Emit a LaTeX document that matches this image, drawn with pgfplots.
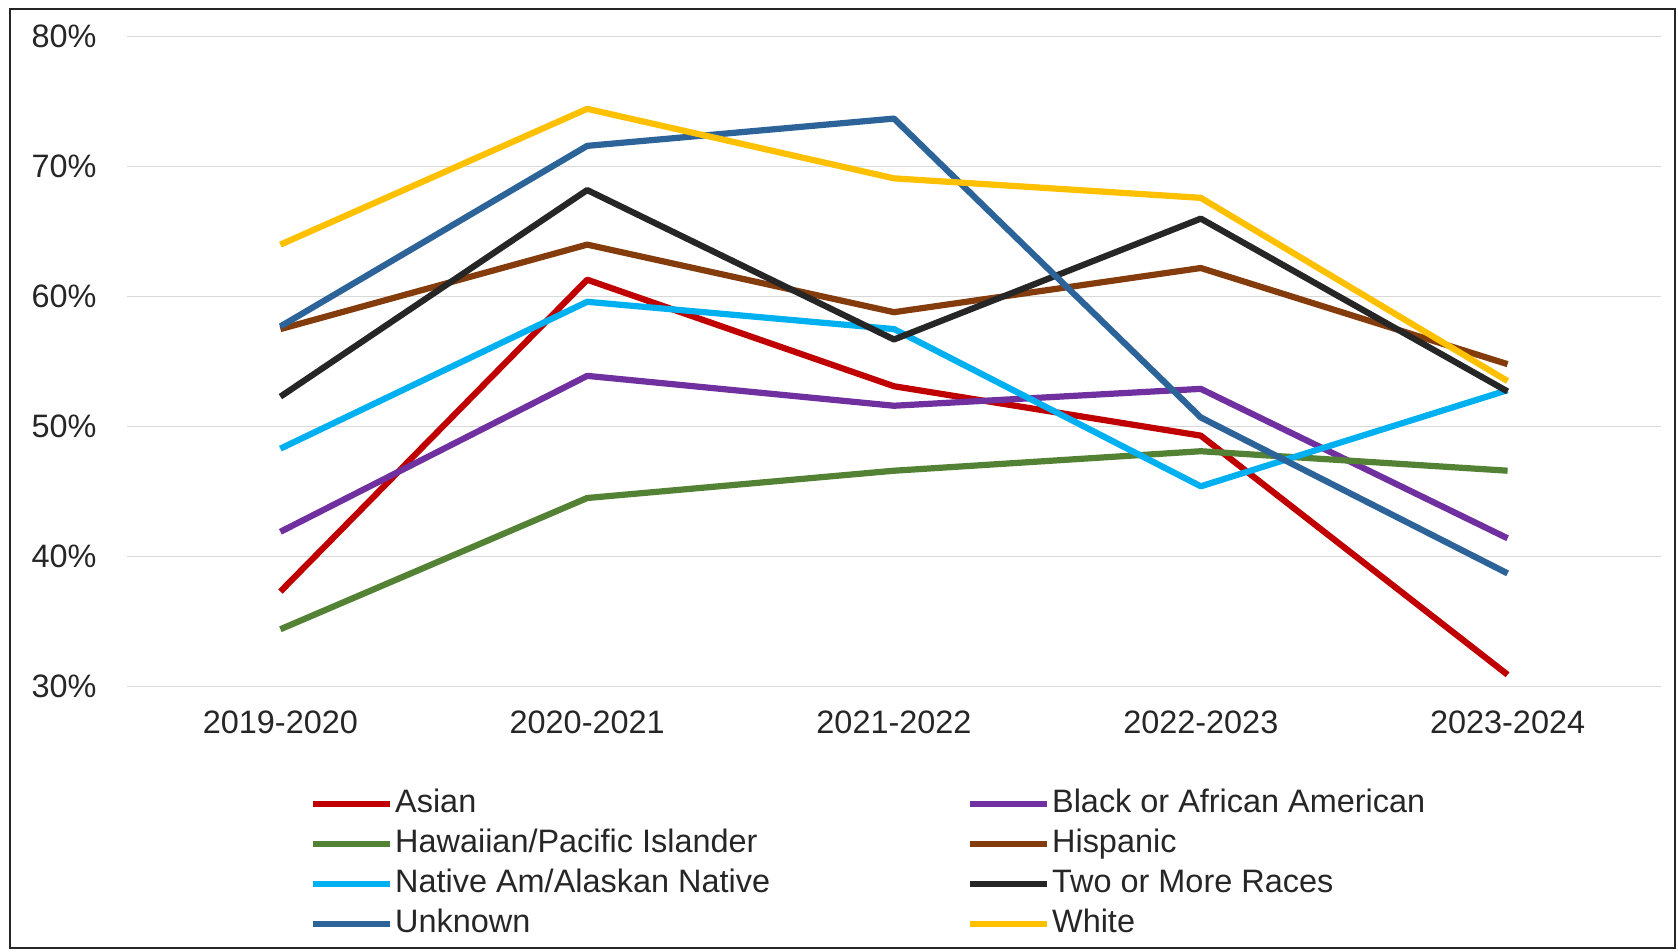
\documentclass[border=0pt]{standalone}
\usepackage{pgfplots}
\pgfplotsset{compat=1.18}
\usepackage{fontspec}
\setmainfont{Liberation Sans}
\definecolor{cAsian}{HTML}{C00000}
\definecolor{cBlack}{HTML}{7030A0}
\definecolor{cHaw}{HTML}{548235}
\definecolor{cHisp}{HTML}{843C0C}
\definecolor{cNat}{HTML}{00B0F0}
\definecolor{cTwo}{HTML}{262626}
\definecolor{cUnk}{HTML}{2C6399}
\definecolor{cWhite}{HTML}{FFC000}
\definecolor{gridgray}{HTML}{D9D9D9}
\definecolor{txt}{HTML}{262626}
\begin{document}
\fontsize{12}{14}\selectfont
\begin{tikzpicture}
\useasboundingbox (-46.99pt,-97.90pt) rectangle (573.87pt,253.97pt);
\begin{axis}[
  at={(0pt,0pt)}, anchor=south west,
  scale only axis, width=567.58pt, height=240.39pt,
  xmin=-0.5, xmax=4.5, ymin=30, ymax=80,
  xtick={0,1,2,3,4},
  xticklabels={2019-2020,2020-2021,2021-2022,2022-2023,2023-2024},
  ytick={30,40,50,60,70,80},
  yticklabel={\pgfmathprintnumber{\tick}\%},
  /pgf/number format/assume math mode=true,
  ymajorgrids, grid style={color=gridgray, line width=0.55pt},
  axis line style={draw=none},
  major tick length=0pt,
  tick label style={font=\fontsize{12}{14}\selectfont, text=txt},
  yticklabel style={anchor=east, inner sep=0pt, xshift=-11.1pt},
  xticklabel style={anchor=north, inner sep=0pt, yshift=-8.7pt},
  legend columns=2,
  legend cell align=left,
  legend style={at={(0.1189,-0.1574)}, anchor=north west, draw=none, fill=none,
    inner sep=0pt, font=\fontsize{12}{14}\selectfont, text=txt, row sep=3.7pt,
    nodes={inner sep=0pt, text height=8.6pt, text depth=2.5pt},
    /tikz/every odd column/.append style={column sep=0.65pt},
    /tikz/every even column/.append style={column sep=72.8pt}},
  legend image code/.code={\draw[#1, line width=2.4pt] (0pt,0pt) -- (28.5pt,0pt);},
  every axis plot/.append style={line width=2.3pt, line join=round, mark=none},
]
\addplot[cAsian] coordinates {(0,37.3) (1,61.3) (2,53.1) (3,49.3) (4,30.9)};
\addlegendentry{Asian}
\addplot[cBlack] coordinates {(0,41.9) (1,53.9) (2,51.6) (3,52.9) (4,41.4)};
\addlegendentry{Black or African American}
\addplot[cHaw] coordinates {(0,34.4) (1,44.5) (2,46.6) (3,48.1) (4,46.6)};
\addlegendentry{Hawaiian/Pacific Islander}
\addplot[cHisp] coordinates {(0,57.5) (1,64.0) (2,58.8) (3,62.2) (4,54.8)};
\addlegendentry{Hispanic}
\addplot[cNat] coordinates {(0,48.3) (1,59.6) (2,57.5) (3,45.4) (4,52.8)};
\addlegendentry{Native Am/Alaskan Native}
\addplot[cTwo] coordinates {(0,52.3) (1,68.2) (2,56.7) (3,66.0) (4,52.7)};
\addlegendentry{Two or More Races}
\addplot[cUnk] coordinates {(0,57.7) (1,71.6) (2,73.7) (3,50.7) (4,38.7)};
\addlegendentry{Unknown}
\addplot[cWhite] coordinates {(0,64.0) (1,74.45) (2,69.1) (3,67.6) (4,53.5)};
\addlegendentry{White}
\end{axis}
\draw[black!85, line width=0.7pt] (-43.29pt,-96.79pt) rectangle (572.76pt,250.64pt);
\end{tikzpicture}
\end{document}
